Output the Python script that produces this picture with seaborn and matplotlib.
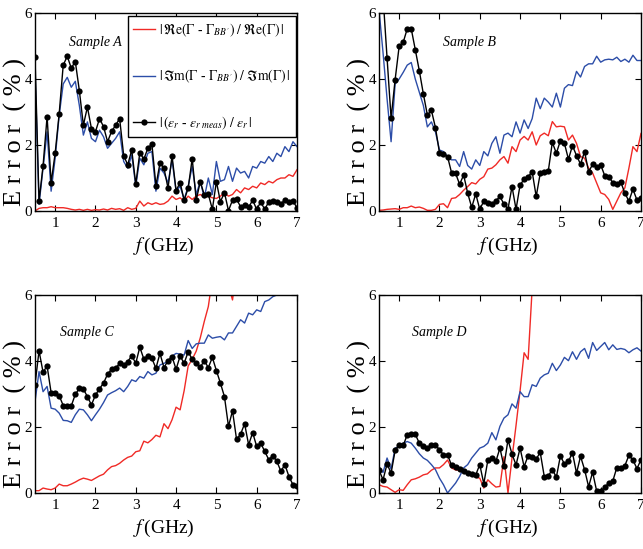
import numpy as np
import pandas as pd
import matplotlib
matplotlib.use("Agg")
import matplotlib.pyplot as plt
import seaborn as sns

# ---------------- data ----------------
freq = np.round(np.linspace(0.5, 7.0, 66), 1)

a_red = [0.00,0.08,0.10,0.10,0.13,0.10,0.10,0.10,0.08,0.05,
         0.03,0.05,0.02,0.05,0.02,0.04,0.03,0.06,0.03,0.08,
         0.05,0.07,0.02,0.10,0.05,0.08,0.30,0.15,0.25,0.20,
         0.25,0.20,0.22,0.30,0.45,0.35,0.40,0.30,0.45,0.35,
         0.45,0.50,0.42,0.45,0.40,0.38,0.45,0.55,0.45,0.50,
         0.65,0.55,0.70,0.65,0.75,0.70,0.85,0.80,0.90,0.85,
         0.95,1.00,1.00,1.10,1.05,1.25]
a_blue = [4.30,0.20,1.30,2.40,0.60,1.60,2.90,3.85,4.05,3.75,
          3.93,3.20,2.30,2.70,2.20,2.10,2.45,2.25,1.90,2.05,
          2.20,2.40,1.50,1.30,1.70,0.75,1.60,1.40,1.75,1.80,
          0.60,1.30,1.15,0.85,1.55,0.60,0.75,0.35,0.75,1.35,
          0.50,0.90,0.40,1.00,0.50,1.50,0.90,0.95,1.35,0.90,
          1.30,1.15,1.20,1.00,1.35,1.30,1.50,1.45,1.65,1.50,
          1.75,1.65,1.95,1.80,2.10,1.95]
a_black = [4.67,0.30,1.37,2.86,0.86,1.75,2.95,4.42,4.69,4.33,
           4.53,3.65,2.60,3.15,2.50,2.40,2.80,2.56,2.10,2.41,
           2.60,2.80,1.68,1.40,1.85,0.81,1.77,1.57,1.90,2.03,
           0.77,1.45,1.30,0.69,1.67,0.62,0.86,0.33,0.69,1.59,
           0.33,0.89,0.49,0.51,0.05,0.89,0.28,0.56,0.01,0.33,
           0.36,0.13,0.19,0.11,0.33,0.05,0.27,0.05,0.28,0.30,
           0.26,0.22,0.33,0.26,0.30,0.10]

b_red = [0.02,0.03,0.05,0.06,0.07,0.05,0.10,0.10,0.15,0.10,
         0.12,0.08,0.02,0.02,0.05,0.20,0.22,0.10,0.38,0.40,
         0.50,0.63,0.74,0.86,0.82,0.96,1.04,1.27,1.30,1.40,
         1.55,1.65,1.45,1.95,1.80,2.15,2.26,2.15,2.40,2.00,
         2.28,2.36,2.28,2.71,2.55,2.57,2.55,2.15,2.30,2.05,
         1.65,1.60,1.30,1.15,0.85,0.55,0.50,0.35,0.05,0.30,
         0.55,0.70,1.30,1.95,1.80,2.35]
b_blue = [6.10,4.80,3.40,2.10,3.85,4.00,4.20,4.42,4.50,4.00,
          3.60,3.20,2.55,2.70,2.40,1.85,1.80,1.65,1.55,1.55,
          1.35,1.80,1.38,1.27,1.55,1.38,1.80,1.67,2.05,2.25,
          1.75,2.30,2.36,2.25,2.70,2.36,2.76,2.50,2.80,3.42,
          3.10,3.42,3.30,3.15,3.57,3.15,3.72,3.83,3.80,4.23,
          4.06,4.38,4.46,4.46,4.69,4.51,4.58,4.60,4.58,4.66,
          4.53,4.60,4.51,4.72,4.56,4.56]
b_black = [8.00,6.50,4.64,2.81,3.98,4.99,5.11,5.52,5.52,4.89,
           4.25,3.55,2.91,3.05,2.53,1.77,1.73,1.65,1.16,1.14,
           0.81,1.09,0.54,0.11,0.52,0.05,0.30,0.25,0.21,0.31,
           0.44,0.21,0.06,0.74,0.05,0.79,0.96,1.04,1.19,0.44,
           1.14,1.17,1.21,2.08,1.75,2.13,2.05,1.57,1.98,1.68,
           1.42,1.80,1.19,1.41,1.33,1.40,1.07,1.04,0.86,0.82,
           0.87,0.54,0.30,0.66,0.33,0.40]

c_red = [0.07,0.07,0.15,0.12,0.10,0.15,0.27,0.22,0.22,0.27,
         0.33,0.40,0.45,0.42,0.38,0.45,0.52,0.57,0.70,0.80,
         0.83,0.90,1.00,1.08,1.12,1.25,1.28,1.57,1.52,1.62,
         1.75,1.70,2.10,1.95,2.22,2.60,2.52,3.10,3.85,4.05,
         4.30,4.70,5.20,5.65,6.50,7.00,7.20,6.80,6.30,5.85,
         6.80,7.50,8.00,8.50,9.00,9.50,10.0,10.5,11.0,11.5,
         12.0,12.5,13.0,13.5,14.0,14.5]
c_blue = [2.77,3.68,3.07,3.23,2.57,2.54,2.42,2.20,2.19,2.14,
          2.37,2.54,2.52,2.37,2.19,2.37,2.54,2.74,2.97,3.04,
          3.10,3.18,3.07,3.23,3.43,3.38,3.53,3.48,3.68,3.58,
          3.63,3.88,3.93,3.98,4.15,4.23,4.21,4.18,4.62,4.38,
          4.52,4.54,4.54,4.79,4.69,4.72,4.74,4.64,4.85,4.85,
          5.05,5.25,5.15,5.45,5.40,5.55,5.50,5.80,5.85,5.95,
          6.00,6.10,6.20,6.30,6.40,6.50]
c_black = [3.28,4.31,3.66,3.85,3.04,3.02,2.95,2.65,2.64,2.64,
           2.99,3.17,3.15,2.92,2.67,2.97,3.16,3.33,3.60,3.75,
           3.78,3.93,3.88,3.98,4.16,3.93,4.42,4.06,4.16,4.08,
           3.78,4.23,3.80,4.01,4.13,3.75,4.15,3.93,4.28,4.05,
           3.93,3.81,4.01,3.80,4.11,3.71,3.33,2.92,2.02,2.49,
           1.63,1.78,2.10,1.46,1.83,1.41,1.51,1.26,1.01,1.13,
           0.96,0.66,0.86,0.50,0.25,0.22]

d_red = [0.25,0.20,0.18,0.10,0.02,0.10,0.08,0.25,0.40,0.43,
         0.48,0.55,0.58,0.69,0.76,0.76,0.86,1.00,0.76,0.70,
         0.69,0.70,0.63,0.55,0.48,0.45,0.15,0.40,0.28,0.18,
         0.20,1.10,0.00,1.06,2.05,3.10,4.25,4.05,6.20,8.00,
         9.0,10.0,11.0,12.0,13.0,14.0,15.0,16.0,17.0,18.0,
         19.0,20.0,21.0,22.0,23.0,24.0,25.0,26.0,27.0,28.0,
         29.0,30.0,31.0,32.0,33.0,34.0]
d_blue = [0.80,0.62,1.06,0.72,1.36,1.41,1.51,1.56,1.51,1.36,
          1.19,1.06,0.99,0.86,0.71,0.45,0.25,0.00,0.15,0.30,
          0.50,0.76,0.86,1.06,1.21,1.36,1.41,1.51,1.83,1.61,
          2.02,2.27,2.37,2.70,2.57,3.07,2.92,2.92,3.28,3.23,
          3.48,3.58,3.63,3.93,3.71,3.88,4.11,4.01,4.28,4.05,
          4.28,4.38,4.08,4.56,4.32,4.44,4.56,4.34,4.49,4.35,
          4.38,4.35,4.25,4.34,4.40,4.30]
d_black = [0.70,0.40,0.88,0.60,1.29,1.46,1.44,1.76,1.78,1.78,
           1.51,1.43,1.36,1.46,1.46,1.31,1.16,1.16,0.84,0.78,
           0.73,0.66,0.60,0.57,0.55,0.86,0.28,0.99,1.06,0.96,
           1.36,0.81,1.61,1.18,0.85,1.36,0.80,1.13,1.09,1.03,
           1.23,0.50,0.52,0.71,0.48,1.12,0.88,0.96,1.22,0.60,
           1.11,0.71,0.19,0.63,0.06,0.07,0.17,0.30,0.36,0.77,
           0.77,0.83,1.14,1.00,0.74,1.01]

samples = ["Sample A", "Sample B", "Sample C", "Sample D"]
series_labels = [
    r"$|\,\Re\mathrm{e}(\Gamma$ - $\Gamma_{BB^{\prime}})\ /\ \Re\mathrm{e}(\Gamma)\,|$",
    r"$|\,\Im\mathrm{m}(\Gamma$ - $\Gamma_{BB^{\prime}})\ /\ \Im\mathrm{m}(\Gamma)\,|$",
    r"$|\,(\varepsilon_r$ - $\varepsilon_{r\ meas})\ /\ \varepsilon_r\,|$",
]
panel_data = [(a_red, a_blue, a_black), (b_red, b_blue, b_black),
              (c_red, c_blue, c_black), (d_red, d_blue, d_black)]
for trip in panel_data:
    for s in trip:
        assert len(s) == len(freq), len(s)

# ---------------- style ----------------
plt.rcParams["font.family"] = ["Liberation Serif", "DejaVu Serif"]
plt.rcParams["mathtext.fontset"] = "stix"

RED = "#f02a26"
BLUE = "#2c4da8"

fig = plt.figure(figsize=(6.43, 5.49), dpi=100)
W, H = 643, 549
boxes = [(35, 13), (379, 13), (35, 295), (379, 295)]
aw, ah = 262, 198
sample_pos = [(0.13, 0.85), (0.245, 0.85), (0.095, 0.81), (0.125, 0.81)]

for i, ((lx, ty), (r, b, k)) in enumerate(zip(boxes, panel_data)):
    ax = fig.add_axes([lx / W, 1 - (ty + ah) / H, aw / W, ah / H])
    df = pd.DataFrame({"f": freq, "re": r, "im": b, "eps": k})
    sns.lineplot(data=df, x="f", y="re", ax=ax, color=RED, lw=1.0,
                 label=series_labels[0])
    sns.lineplot(data=df, x="f", y="im", ax=ax, color=BLUE, lw=1.0,
                 label=series_labels[1])
    sns.lineplot(data=df, x="f", y="eps", ax=ax, color="black", lw=1.0,
                 marker="o", markersize=4.5, markeredgewidth=0,
                 label=series_labels[2])
    ax.set_xlim(0.5, 7)
    ax.set_ylim(0, 6)
    ax.set_xticks([1, 2, 3, 4, 5, 6, 7])
    ax.set_yticks([0, 2, 4, 6])
    ax.tick_params(direction="in", top=True, right=True, length=4,
                   width=0.8, labelsize=11)
    ax.tick_params(axis="y", pad=2)
    ax.tick_params(axis="x", pad=4)
    for sp in ax.spines.values():
        sp.set_linewidth(1.0)
    ax.set_xlabel(r"$f\,$(GHz)", fontsize=14)
    ax.xaxis.set_label_coords(0.49, -0.125)
    ax.set_ylabel("E r r o r  ( % )", fontsize=19)
    ax.yaxis.set_label_coords(-0.03, 0.40)
    ax.text(sample_pos[i][0], sample_pos[i][1], samples[i], style="italic",
            fontsize=10, transform=ax.transAxes, ha="left", va="center")
    if i == 0:
        leg = ax.legend(loc="upper left", bbox_to_anchor=(0.355, 0.985),
                        borderaxespad=0, frameon=True, fancybox=False,
                        framealpha=1, edgecolor="black", fontsize=9.8,
                        handlelength=1.6, handletextpad=0.3,
                        labelspacing=2.15, borderpad=0.38)
        leg.get_frame().set_linewidth(1.0)
    else:
        ax.get_legend().remove()

fig.savefig("out.png", dpi=100)
